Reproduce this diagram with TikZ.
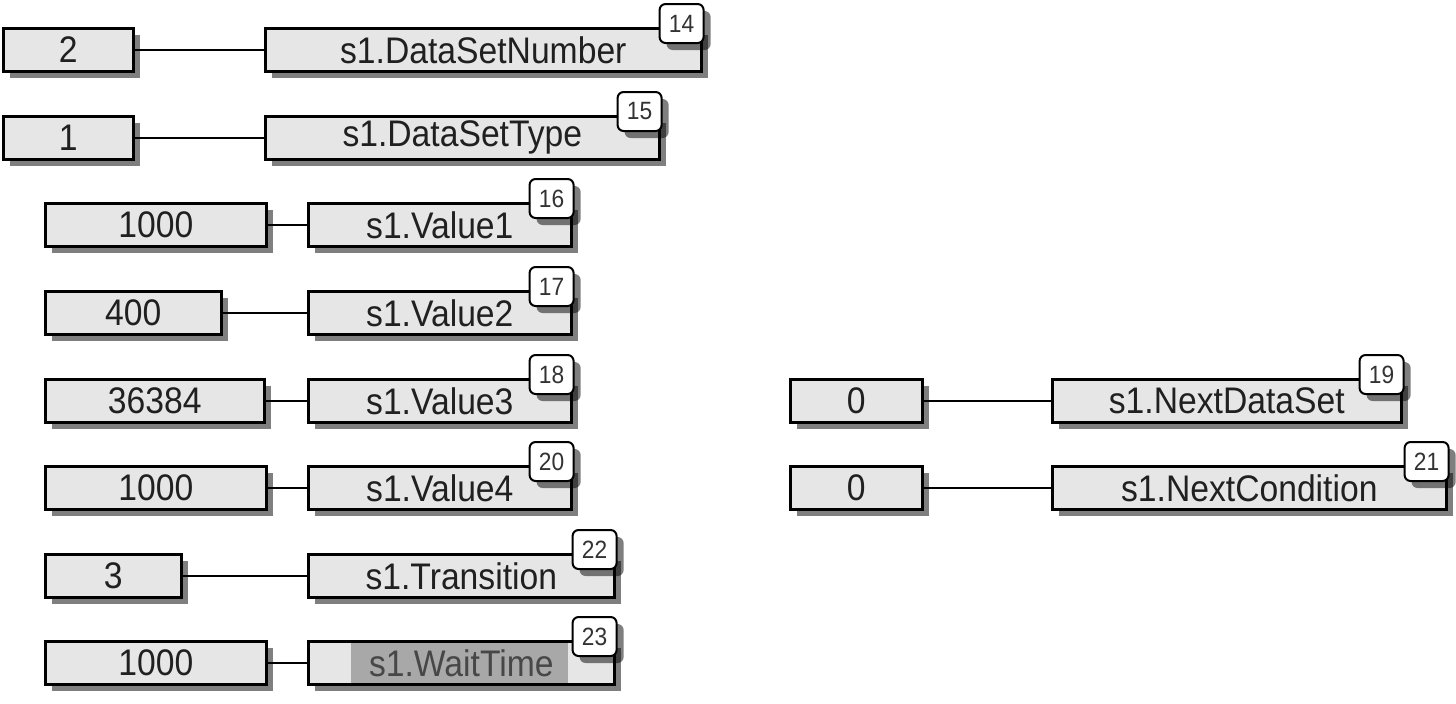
\documentclass[tikz,border=0pt]{standalone}
\usepackage{fontspec}
\setmainfont{Liberation Sans}
\newfontfamily\plcfont{Liberation Sans}[FakeStretch=0.91]
\usetikzlibrary{shadows,calc}
\definecolor{boxfill}{HTML}{E6E6E6}
\definecolor{hlgray}{HTML}{A8A8A8}
\definecolor{txt}{HTML}{202020}
\newcommand\plcmainfont{\plcfont\fontsize{18.5pt}{20pt}\selectfont}
\newcommand\plcbadgefont{\plcfont\fontsize{12.5pt}{13pt}\selectfont}
\tikzset{
 plcshadow/.style={drop shadow={shadow xshift=3.5pt, shadow yshift=-3.5pt, fill=black, opacity=0.5}},
 valbox/.style={draw=black, line width=1.3pt, fill=boxfill, minimum height=21.5pt, inner sep=0pt, anchor=north west, font=\plcmainfont, text=txt, plcshadow},
 varbox/.style={valbox},
 badge/.style={draw=black, line width=1pt, fill=white, rounded corners=3pt, minimum width=22pt, minimum height=19.5pt, inner sep=0pt, anchor=north east, font=\plcbadgefont, text=black!80, plcshadow},
 conn/.style={draw=black, line width=1.1pt},
}
\begin{document}
\begin{tikzpicture}[x=0.5pt, y=-0.5pt]
\useasboundingbox[fill=white] (0,0) rectangle (1456,703);
% row 1
\node[valbox, minimum width=65pt] (v14) at (2,27) {2};
\node[varbox, minimum width=218pt] (t14) at (264,27) {s1.DataSetNumber};
\node[badge] (b14) at ($(t14.north east)+(2,-24)$) {14};
\draw[conn] (v14) -- (t14);
% row 2
\node[valbox, minimum width=65pt] (v15) at (2,115) {1};
\node[varbox, minimum width=197pt] (t15) at (264,115) {s1.DataSetType};
\node[badge] (b15) at ($(t15.north east)+(2,-24)$) {15};
\draw[conn] (v15) -- (t15);
% row 3
\node[valbox, minimum width=110.5pt] (v16) at (44,202) {1000};
\node[varbox, minimum width=131.5pt] (t16) at (307,202) {s1.Value1};
\node[badge] (b16) at ($(t16.north east)+(2,-24)$) {16};
\draw[conn] (v16) -- (t16);
% row 4
\node[valbox, minimum width=88pt] (v17) at (44,290) {400};
\node[varbox, minimum width=131.5pt] (t17) at (307,290) {s1.Value2};
\node[badge] (b17) at ($(t17.north east)+(2,-24)$) {17};
\draw[conn] (v17) -- (t17);
% row 5
\node[valbox, minimum width=109.5pt] (v18) at (44,378) {36384};
\node[varbox, minimum width=131.5pt] (t18) at (307,378) {s1.Value3};
\node[badge] (b18) at ($(t18.north east)+(2,-24)$) {18};
\draw[conn] (v18) -- (t18);
% row 6
\node[valbox, minimum width=110.5pt] (v20) at (44,465) {1000};
\node[varbox, minimum width=131.5pt] (t20) at (307,465) {s1.Value4};
\node[badge] (b20) at ($(t20.north east)+(2,-24)$) {20};
\draw[conn] (v20) -- (t20);
% row 7
\node[valbox, minimum width=68pt] (v22) at (44,553) {3};
\node[varbox, minimum width=153pt] (t22) at (307,553) {s1.Transition};
\node[badge] (b22) at ($(t22.north east)+(2,-24)$) {22};
\draw[conn] (v22) -- (t22);
% row 8
\node[valbox, minimum width=110.5pt] (v23) at (44,640) {1000};
\node[varbox, minimum width=153pt, text=black!72,
  path picture={\fill[hlgray] ($(path picture bounding box.center)+(-110,-30)$) rectangle ($(path picture bounding box.center)+(107,30)$);}]
  (t23) at (307,640) {s1.WaitTime};
\node[badge] (b23) at ($(t23.north east)+(2,-24)$) {23};
\draw[conn] (v23) -- (t23);
% right column
\node[valbox, minimum width=66pt] (v19) at (789,378) {0};
\node[varbox, minimum width=174.5pt] (t19) at (1051,378) {s1.NextDataSet};
\node[badge] (b19) at ($(t19.north east)+(2,-24)$) {19};
\draw[conn] (v19) -- (t19);
\node[valbox, minimum width=66pt] (v21) at (789,465) {0};
\node[varbox, minimum width=197pt] (t21) at (1051,465) {s1.NextCondition};
\node[badge] (b21) at ($(t21.north east)+(2,-24)$) {21};
\draw[conn] (v21) -- (t21);
\end{tikzpicture}
\end{document}
